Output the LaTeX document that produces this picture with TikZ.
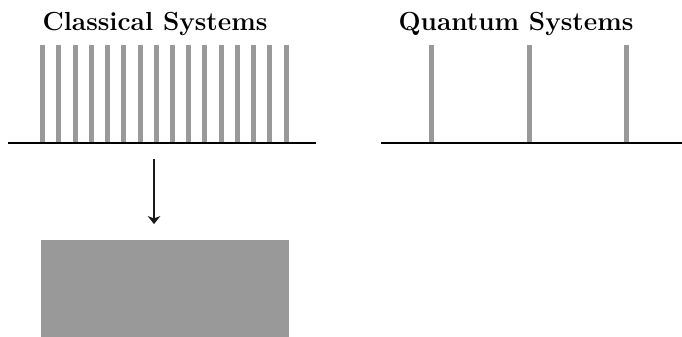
\documentclass[tikz,border=0pt]{standalone}
\usepackage{tikz}
\usetikzlibrary{arrows.meta,positioning}
\definecolor{bargray}{HTML}{999999}
\tikzset{
  ttl/.style={font=\fontsize{11.5}{14}\selectfont\bfseries,inner sep=0pt,anchor=base},
  axis/.style={line width=0.6pt,draw=black},
  bar/.style={line width=2.2pt,draw=bargray},
  blk/.style={fill=bargray,draw=none,inner sep=0pt,anchor=north west},
  ar/.style={-{Stealth[length=3.5pt,width=5.5pt,inset=1pt]},line width=1.1pt,draw=black!90},
}
\begin{document}
\begin{tikzpicture}[x=0.44pt,y=-0.44pt]
\useasboundingbox (0,0) rectangle (682,336);
\node[ttl] (cl) at (155,30) {Classical Systems};
\node[ttl] (qu) at (516,30) {Quantum Systems};
\coordinate (cl l) at (8,143); \coordinate (cl r) at (316,143);
\coordinate (qu l) at (381,143); \coordinate (qu r) at (682,143);
\foreach \i in {0,...,15} \draw[bar] ({42.7+16.22*\i},45) -- ++(0,98);
\foreach \i in {0,1,2} \draw[bar] ({431.7+97.5*\i},45) -- ++(0,98);
\draw[axis] (cl l) -- (cl r);
\draw[axis] (qu l) -- (qu r);
\node[blk,minimum width=109.1pt,minimum height=42.5pt] (res) at (40.7,240) {};
\coordinate (down) at (154,159);
\draw[ar] (down) -- ([yshift=7pt]down |- res.north);
\end{tikzpicture}
\end{document}
